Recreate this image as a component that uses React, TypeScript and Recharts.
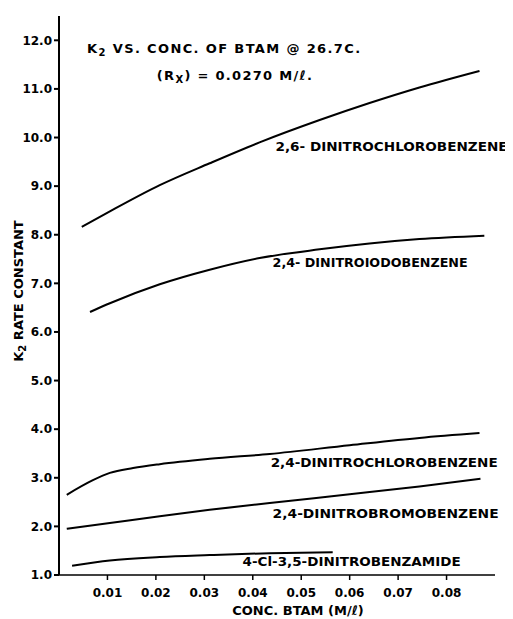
import React from 'react';
import { LineChart, Line, XAxis, YAxis, ReferenceDot, Label } from 'recharts';

// ---- data ----
const xTicks = [0.01, 0.02, 0.03, 0.04, 0.05, 0.06, 0.07, 0.08];
const yTicks = [1, 2, 3, 4, 5, 6, 7, 8, 9, 10, 11, 12];

const dncb26X = [0.0047, 0.0105, 0.0208, 0.0311, 0.0414, 0.0538, 0.0641, 0.0744, 0.0868];
const dncb26Y = [8.16, 8.48, 9.02, 9.47, 9.9, 10.36, 10.71, 11.03, 11.37];

const dnibX = [0.0064, 0.0105, 0.0208, 0.0311, 0.0414, 0.0538, 0.0641, 0.0744, 0.0878];
const dnibY = [6.41, 6.59, 6.98, 7.28, 7.52, 7.7, 7.82, 7.91, 7.98];

const dncb24X = [0.0016, 0.007, 0.0105, 0.0153, 0.0208, 0.0311, 0.0435, 0.06, 0.0744, 0.0868];
const dncb24Y = [2.65, 2.95, 3.1, 3.2, 3.28, 3.39, 3.49, 3.67, 3.82, 3.92];

const dnbbX = [0.0016, 0.0105, 0.0208, 0.0311, 0.0435, 0.06, 0.0744, 0.087];
const dnbbY = [1.95, 2.07, 2.21, 2.34, 2.48, 2.66, 2.82, 2.98];

const cldnbaX = [0.0027, 0.0105, 0.0208, 0.0311, 0.0435, 0.0565];
const cldnbaY = [1.19, 1.3, 1.37, 1.41, 1.45, 1.47];

const seriesNames = [
  '2,6- DINITROCHLOROBENZENE',
  '2,4- DINITROIODOBENZENE',
  '2,4-DINITROCHLOROBENZENE',
  '2,4-DINITROBROMOBENZENE',
  '4-Cl-3,5-DINITROBENZAMIDE',
];
// label anchor (left edge, vertical centre) in data units
const labelX = [0.0447, 0.0441, 0.0437, 0.0441, 0.0379];
const labelY = [9.81, 7.42, 3.3, 2.26, 1.27];
const labelLen = [232, 195, 227, 226, 218];

const zip = (xs: number[], ys: number[]) => xs.map((x, i) => ({ x, y: ys[i] }));
const seriesData = [
  zip(dncb26X, dncb26Y),
  zip(dnibX, dnibY),
  zip(dncb24X, dncb24Y),
  zip(dnbbX, dnbbY),
  zip(cldnbaX, cldnbaY),
];

const FONT = "'DejaVu Sans', sans-serif";

const textShape = (content: React.ReactNode, extra: any = {}) => (props: any) => (
  <text
    x={props.cx}
    y={props.cy}
    fontFamily={FONT}
    fontWeight="bold"
    fontSize={12}
    fill="#000"
    dominantBaseline="central"
    {...extra}
  >
    {content}
  </text>
);

const YLabel = () => {
  const cx = 10;
  const cy = 283;
  return (
    <text
      x={cx}
      y={cy}
      transform={`rotate(-90 ${cx} ${cy})`}
      textAnchor="middle"
      dominantBaseline="central"
      fontFamily={FONT}
      fontWeight="bold"
      fontSize={13}
      fill="#000"
    >
      <tspan>K</tspan>
      <tspan dy={4} fontSize={10}>2</tspan>
      <tspan dy={-4}> RATE CONSTANT</tspan>
    </text>
  );
};

const XLabel = (props: any) => {
  const vb = props.viewBox;
  return (
    <text
      x={vb.x + 239}
      y={602}
      textAnchor="middle"
      dominantBaseline="central"
      fontFamily={FONT}
      fontWeight="bold"
      fontSize={13}
      fill="#000"
    >
      CONC. BTAM (M/ℓ)
    </text>
  );
};

export default function App() {
  return (
    <LineChart width={505} height={611} margin={{ top: 8, right: 18, bottom: 14, left: 6 }}>
      <XAxis
        type="number"
        dataKey="x"
        domain={[0, 0.09]}
        ticks={xTicks}
        allowDataOverflow
        tickFormatter={(v: number) => v.toFixed(2)}
        stroke="#000"
        strokeWidth={1.5}
        tickSize={5}
        tickMargin={8}
        height={30}
        tick={{ fill: '#000', fontSize: 12, fontWeight: 'bold', fontFamily: FONT }}
      >
        <Label content={XLabel} />
      </XAxis>
      <YAxis
        type="number"
        dataKey="y"
        domain={[1, 12.5]}
        ticks={yTicks}
        allowDataOverflow
        tickFormatter={(v: number) => v.toFixed(1)}
        stroke="#000"
        strokeWidth={2}
        tickSize={5}
        tickMargin={2}
        width={45}
        tick={{ fill: '#000', fontSize: 12, fontWeight: 'bold', fontFamily: FONT }}
      >
        <Label content={YLabel} />
      </YAxis>
      {seriesData.map((d, i) => (
        <Line
          key={seriesNames[i]}
          data={d}
          dataKey="y"
          type="monotone"
          stroke="#000"
          strokeWidth={2}
          dot={false}
          isAnimationActive={false}
        />
      ))}
      {seriesNames.map((name, i) => (
        <ReferenceDot
          key={'lbl' + i}
          x={labelX[i]}
          y={labelY[i]}
          r={0}
          ifOverflow="visible"
          shape={textShape(name, { textLength: labelLen[i], lengthAdjust: 'spacingAndGlyphs' })}
        />
      ))}
      <ReferenceDot
        x={0.0058}
        y={11.84}
        r={0}
        ifOverflow="visible"
        shape={textShape(
          <>
            <tspan>K</tspan>
            <tspan dy={4} fontSize={10}>2</tspan>
            <tspan dy={-4}> VS.  CONC. OF  BTAM @  26.7C.</tspan>
          </>,
          { fontSize: 13, textLength: 273, lengthAdjust: 'spacing' }
        )}
      />
      <ReferenceDot
        x={0.0202}
        y={11.29}
        r={0}
        ifOverflow="visible"
        shape={textShape(
          <>
            <tspan>(R</tspan>
            <tspan dy={4} fontSize={10}>X</tspan>
            <tspan dy={-4}>) = 0.0270  M/ℓ.</tspan>
          </>,
          { fontSize: 13, textLength: 155, lengthAdjust: 'spacing' }
        )}
      />
    </LineChart>
  );
}
